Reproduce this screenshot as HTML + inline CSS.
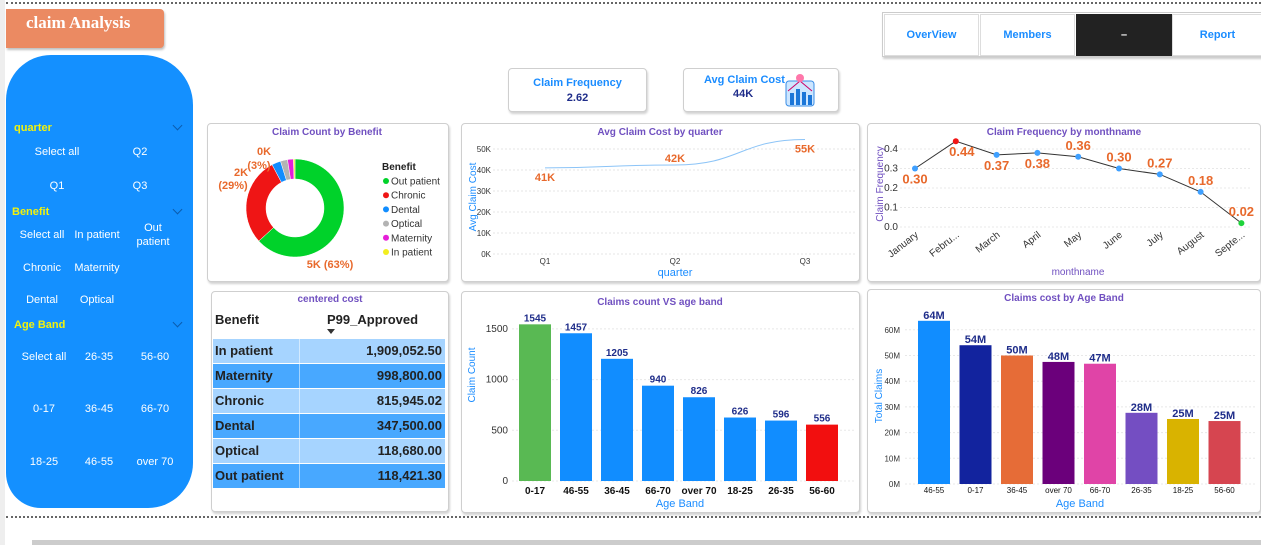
<!DOCTYPE html>
<html><head><meta charset="utf-8">
<style>
body{margin:0;width:1261px;height:545px;overflow:hidden;background:#fff;font-family:"Liberation Sans",sans-serif;position:relative}
.abs{position:absolute}
.panel{position:absolute;background:#fff;border:1px solid #cfcfcf;border-radius:4px;box-shadow:1px 2px 2px rgba(0,0,0,.18)}
.dots{position:absolute;left:6px;right:0;height:0;border-top:2px dotted #666}
.sl{position:absolute;color:#fff;font-size:11px;text-align:center;transform:translate(-50%,-50%);line-height:14px}
.sh{position:absolute;color:#F2F20C;font-size:11px;font-weight:bold}
.chev{position:absolute;width:6px;height:6px;border-right:1px solid #0b5cae;border-bottom:1px solid #0b5cae;transform:rotate(45deg)}
.nav{position:absolute;top:14px;height:40px;background:#fff;border:1px solid #ddd;color:#1A8CFF;font-size:11px;font-weight:bold;text-align:center;line-height:40px}
svg text{font-family:"Liberation Sans",sans-serif}
</style></head><body>
<div class="dots" style="top:2px"></div>
<div class="dots" style="top:516px"></div>
<div class="abs" style="left:0;top:0;width:5px;height:545px;background:#eee"></div>
<div class="abs" style="left:32px;top:540px;width:1229px;height:5px;background:#ccc"></div>

<div class="abs" style="left:6px;top:9px;width:158px;height:39px;background:#EB8A62;border-radius:0 4px 4px 0;box-shadow:1px 2px 2px rgba(0,0,0,.25)">
<div style="position:absolute;left:20px;top:4px;color:#fff;font-family:'Liberation Serif',serif;font-weight:bold;font-size:17px">claim Analysis</div></div>

<div class="abs" style="left:6px;top:55px;width:187px;height:453px;background:#1490FF;border-radius:45px 50px 45px 35px"></div>
<div class="sh" style="left:14px;top:122px">quarter</div>
<div class="chev" style="left:174px;top:122px"></div>
<div class="sl" style="left:57px;top:152px">Select all</div>
<div class="sl" style="left:140px;top:152px">Q2</div>
<div class="sl" style="left:57px;top:186px">Q1</div>
<div class="sl" style="left:140px;top:186px">Q3</div>
<div class="sh" style="left:12px;top:206px">Benefit</div>
<div class="chev" style="left:174px;top:206px"></div>
<div class="sl" style="left:42px;top:235px">Select all</div>
<div class="sl" style="left:97px;top:235px">In patient</div>
<div class="sl" style="left:153px;top:235px">Out<br>patient</div>
<div class="sl" style="left:42px;top:268px">Chronic</div>
<div class="sl" style="left:97px;top:268px">Maternity</div>
<div class="sl" style="left:42px;top:300px">Dental</div>
<div class="sl" style="left:97px;top:300px">Optical</div>
<div class="sh" style="left:14px;top:319px">Age Band</div>
<div class="chev" style="left:174px;top:319px"></div>
<div class="sl" style="left:44px;top:357px">Select all</div>
<div class="sl" style="left:99px;top:357px">26-35</div>
<div class="sl" style="left:155px;top:357px">56-60</div>
<div class="sl" style="left:44px;top:409px">0-17</div>
<div class="sl" style="left:99px;top:409px">36-45</div>
<div class="sl" style="left:155px;top:409px">66-70</div>
<div class="sl" style="left:44px;top:462px">18-25</div>
<div class="sl" style="left:99px;top:462px">46-55</div>
<div class="sl" style="left:155px;top:462px">over 70</div>

<div class="abs" style="left:882px;top:12px;width:379px;height:43px;border:1px solid #ccc;box-shadow:1px 2px 2px rgba(0,0,0,.2)"></div>
<div class="nav" style="left:884px;width:93px">OverView</div>
<div class="nav" style="left:980px;width:93px">Members</div>
<div class="nav" style="left:1076px;width:94px;background:#222;color:#fff;border-color:#222">–</div>
<div class="nav" style="left:1172px;width:89px">Report</div>

<div class="panel" style="left:508px;top:68px;width:137px;height:42px">
<div style="position:absolute;width:100%;top:8px;text-align:center;color:#1A8CFF;font-size:11px;font-weight:bold">Claim Frequency</div>
<div style="position:absolute;width:100%;top:23px;text-align:center;color:#1F2D8A;font-size:11px;font-weight:bold">2.62</div></div>
<div class="panel" style="left:683px;top:68px;width:154px;height:42px">
<div style="position:absolute;left:20px;top:5px;color:#1A8CFF;font-size:11px;font-weight:bold">Avg Claim Cost</div>
<div style="position:absolute;left:49px;top:19px;color:#1F2D8A;font-size:11px;font-weight:bold">44K</div>
<svg style="position:absolute;left:100px;top:4px" width="32" height="34"><rect x="2" y="8" width="28" height="25" rx="3" fill="#cde6ff" stroke="#3a8ee6"/><rect x="6" y="20" width="4" height="12" fill="#1b76d8"/><rect x="12" y="16" width="4" height="16" fill="#1b76d8"/><rect x="18" y="19" width="4" height="13" fill="#1b76d8"/><rect x="24" y="22" width="4" height="10" fill="#1b76d8"/><polyline points="4,18 16,8 28,18" fill="none" stroke="#c06" stroke-width="1"/><circle cx="16" cy="5" r="4" fill="#f7a" /></svg></div>

<div class="panel" style="left:207px;top:123px;width:240px;height:157px"></div>
<div class="panel" style="left:461px;top:123px;width:397px;height:157px"></div>
<div class="panel" style="left:867px;top:123px;width:392px;height:157px"></div>
<div class="panel" style="left:211px;top:291px;width:236px;height:219px"></div>
<div class="panel" style="left:461px;top:291px;width:397px;height:220px"></div>
<div class="panel" style="left:867px;top:289px;width:392px;height:222px"></div>

<!-- table -->
<div class="abs" style="left:211px;top:294px;width:238px;text-align:center;color:#7050C0;font-size:10px;font-weight:bold">centered cost</div>
<div class="abs" style="left:215px;top:312px;font-size:13px;font-weight:bold;color:#222">Benefit</div>
<div class="abs" style="left:327px;top:312px;font-size:13px;font-weight:bold;color:#222">P99_Approved</div>
<div class="abs" style="left:327px;top:329px;width:0;height:0;border-left:4px solid transparent;border-right:4px solid transparent;border-top:5px solid #333"></div>
<div id="tbl" class="abs" style="left:213px;top:339px;width:232px"></div>

<svg id="ch" class="abs" style="left:0;top:0" width="1261" height="545"></svg>

<script>
// table data
const tblBenefits=["In patient","Maternity","Chronic","Dental","Optical","Out patient"];
const tblValues=["1,909,052.50","998,800.00","815,945.02","347,500.00","118,680.00","118,421.30"];
// donut data
const donutCats=["Out patient","Chronic","Dental","Optical","Maternity","In patient"];
const donutVals=[4900,2250,230,180,150,40];
const donutColors=["#00D22A","#EF1515","#118DFF","#B3B3B3","#E51FD8","#F2EE1F"];
// avg cost by quarter
const qCats=["Q1","Q2","Q3"];
const qVals=[41000,42400,54500];
const qLabels=["41K","42K","55K"];
const qTicks=[0,10000,20000,30000,40000,50000];
// frequency by month
const mCats=["January","Febru...","March","April","May","June","July","August","Septe..."];
const mVals=[0.30,0.44,0.37,0.38,0.36,0.30,0.27,0.18,0.02];
const mTicks=[0,0.1,0.2,0.3,0.4];
// claims count by age
const cCats=["0-17","46-55","36-45","66-70","over 70","18-25","26-35","56-60"];
const cVals=[1545,1457,1205,940,826,626,596,556];
const cTicks=[0,500,1000,1500];
// claims cost by age
const kCats=["46-55","0-17","36-45","over 70","66-70","26-35","18-25","56-60"];
const kVals=[63.5,54,50,47.5,46.8,27.7,25.3,24.5];
const kTicks=[0,10,20,30,40,50,60];
const kColors=["#118DFF","#12239E","#E66C37","#6B007B","#E044A7","#744EC2","#D9B300","#D64550"];

const tb=document.getElementById('tbl');
tblBenefits.forEach((b,i)=>{
  const r=document.createElement('div');
  
  
  r.style.cssText='position:relative;height:24px;margin-bottom:1px;background:'+(i%2?'#48A8FF':'#A6D4FF')+';font-size:13px;font-weight:bold;color:#222;line-height:24px';
  r.innerHTML='<span style="position:absolute;left:2px">'+b+'</span><span style="position:absolute;left:86px;top:0;width:1px;height:24px;background:rgba(255,255,255,.5)"></span><span style="position:absolute;right:3px">'+tblValues[i]+'</span>';
  tb.appendChild(r);
});

const S=document.getElementById('ch');const NS='http://www.w3.org/2000/svg';
function el(t,a,txt){const e=document.createElementNS(NS,t);for(const k in a)e.setAttribute(k,a[k]);if(txt!==undefined)e.textContent=txt;S.appendChild(e);return e;}
function T(x,y,s,o){o=o||{};return el('text',Object.assign({x:x,y:y,'font-size':o.fs||9,fill:o.fill||'#333','text-anchor':o.a||'middle','font-weight':o.w||'normal'},o.tr?{transform:o.tr}:{}),s);}
const purple='#7050C0',blue='#1A8CFF',orange='#E8692C',navy='#1F2D8A';

let t;
t=T(327,135,'Claim Count by Benefit',{fs:10,w:'bold',fill:purple});
t=T(660,135,'Avg Claim Cost by quarter',{fs:10,w:'bold',fill:purple});
t=T(1064,135,'Claim Frequency by monthname',{fs:10,w:'bold',fill:purple});
t=T(660,305,'Claims count VS age band',{fs:10,w:'bold',fill:purple});
t=T(1064,301,'Claims cost by Age Band',{fs:10,w:'bold',fill:purple});

// donut
const cx=295,cy=208,R=49,r0=29;const tot=donutVals.reduce((a,b)=>a+b,0);let ang=0;
donutVals.forEach((v,i)=>{const a0=ang,a1=ang+v/tot*2*Math.PI;ang=a1;
 const p=(a,rr)=>[cx+rr*Math.sin(a),cy-rr*Math.cos(a)];const l=(a1-a0)>Math.PI?1:0;
 const [x0,y0]=p(a0,R),[x1,y1]=p(a1,R),[x2,y2]=p(a1,r0),[x3,y3]=p(a0,r0);
 const s=el('path',{d:`M${x0},${y0}A${R},${R} 0 ${l} 1 ${x1},${y1}L${x2},${y2}A${r0},${r0} 0 ${l} 0 ${x3},${y3}Z`,fill:donutColors[i],stroke:'#fff','stroke-width':0.5});
 
 
});
function pct(i){return Math.round(donutVals[i]/tot*100);}
function kk(v){return Math.round(v/1000)+'K';}
T(330,268,kk(donutVals[0])+' ('+pct(0)+'%)',{fs:11,w:'bold',fill:orange});
T(241,176,kk(donutVals[1]),{fs:11,w:'bold',fill:orange});T(233,189,'('+pct(1)+'%)',{fs:11,w:'bold',fill:orange});
T(264,155,kk(donutVals[2]),{fs:11,w:'bold',fill:orange});T(259,169,'('+pct(2)+'%)',{fs:11,w:'bold',fill:orange});
T(382,170,'Benefit',{fs:10,w:'bold',fill:'#222',a:'start'});
donutCats.forEach((c,i)=>{const y=181+i*14.2;const d=el('circle',{cx:386,cy:y,r:3,fill:donutColors[i]});
 
 T(391,y+3.5,c,{fs:10,fill:'#333',a:'start'});});

// avg cost line
const qx=i=>545+i*130, qy=v=>254-v/50000*105;
qTicks.forEach(v=>{el('line',{x1:493,x2:855,y1:qy(v),y2:qy(v),stroke:'#e4e4e4','stroke-dasharray':'2,2'});T(491,qy(v)+3,(v/1000)+'K',{fs:8,a:'end'});});
qCats.forEach((c,i)=>T(qx(i),264,c,{fs:8}));
let dq='M'+qx(0)+','+qy(qVals[0]);
for(let i=1;i<qVals.length;i++){const xm=(qx(i-1)+qx(i))/2;dq+=` C${xm},${qy(qVals[i-1])} ${xm},${qy(qVals[i])} ${qx(i)},${qy(qVals[i])}`;}
t=el('path',{d:dq,fill:'none',stroke:'#8CC4F7','stroke-width':1});
qVals.forEach((v,i)=>T(qx(i),qy(v)+(i==1?-3:13),qLabels[i],{fs:11,w:'bold',fill:orange}));
T(476,197,'Avg Claim Cost',{fs:10,fill:blue,tr:'rotate(-90 476 197)'});
T(675,276,'quarter',{fs:11,fill:blue});

// frequency line
const mx=i=>915+i*40.8, my=v=>227-v*195;
mTicks.forEach(v=>{el('line',{x1:900,x2:1250,y1:my(v),y2:my(v),stroke:'#e8e8e8','stroke-dasharray':'2,2'});T(898,my(v)+3,v.toFixed(1),{fs:10,a:'end'});});
t=el('polyline',{points:mVals.map((v,i)=>mx(i)+','+my(v)).join(' '),fill:'none',stroke:'#333','stroke-width':1});

mVals.forEach((v,i)=>{const m=Math.max(...mVals),n=Math.min(...mVals);
 const c=el('circle',{cx:mx(i),cy:my(v),r:3,fill:v===m?'#F21414':v===n?'#1ED33A':'#3FA0FF'});
 
 const below=i<4;T(mx(i)+(i==1?6:0),my(v)+(below?15:-7),v.toFixed(2),{fs:13,w:'bold',fill:orange});
 T(mx(i)+4,236,mCats[i],{fs:10,a:'end',tr:`rotate(-38 ${mx(i)+4} 236)`});});
T(883,184,'Claim Frequency',{fs:10,fill:purple,tr:'rotate(-90 883 184)'});
T(1078,275,'monthname',{fs:10,fill:purple});

// claims count bars
const bx=i=>535+i*41, by=v=>481-v/500*50.7;
cTicks.forEach(v=>{el('line',{x1:512,x2:855,y1:by(v),y2:by(v),stroke:'#e8e8e8','stroke-dasharray':'2,2'});T(508,by(v)+3,v,{fs:10,a:'end'});});
cVals.forEach((v,i)=>{const mxv=Math.max(...cVals),mnv=Math.min(...cVals);
 const b=el('rect',{x:bx(i)-16,y:by(v),width:32,height:481-by(v),fill:v===mxv?'#59B953':v===mnv?'#F20F0F':'#118DFF'});
 
 T(bx(i),by(v)-3,v,{fs:10,w:'bold',fill:navy});T(bx(i),494,cCats[i],{fs:10,w:'bold',fill:'#111'});});
T(475,375,'Claim Count',{fs:10,fill:blue,tr:'rotate(-90 475 375)'});
T(680,507,'Age Band',{fs:11,fill:blue});

// claims cost bars
const kx=i=>934+i*41.5, ky=v=>484-v/10*25.7;
kTicks.forEach(v=>{el('line',{x1:905,x2:1255,y1:ky(v),y2:ky(v),stroke:'#e8e8e8','stroke-dasharray':'2,2'});T(900,ky(v)+3,v+'M',{fs:8,a:'end'});});
kVals.forEach((v,i)=>{const b=el('rect',{x:kx(i)-16,y:ky(v),width:32,height:484-ky(v),fill:kColors[i]});
 
 T(kx(i),ky(v)-2,Math.round(v)+'M',{fs:11,w:'bold',fill:navy});T(kx(i),493,kCats[i],{fs:8,fill:'#111'});});
T(882,396,'Total Claims',{fs:10,fill:blue,tr:'rotate(-90 882 396)'});
T(1080,507,'Age Band',{fs:11,fill:blue});
</script>
</body></html>
